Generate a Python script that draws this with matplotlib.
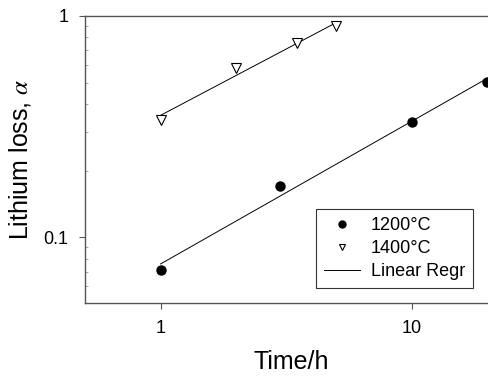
import numpy as np
import matplotlib
matplotlib.use("Agg")
import matplotlib.pyplot as plt
from matplotlib.ticker import FixedLocator, NullFormatter, LogLocator
from matplotlib.lines import Line2D

plt.rcParams['font.family'] = ['Liberation Sans', 'DejaVu Sans']
plt.rcParams['mathtext.fontset'] = 'stix'

t_1200 = [1, 3, 10, 20]
a_1200 = [0.071, 0.171, 0.333, 0.505]
t_1400 = [1, 2, 3.5, 5]
a_1400 = [0.34, 0.583, 0.756, 0.90]

x_ticks = [1, 10]
x_ticklabels = ['1', '10']
y_ticks = [0.1, 1]
y_ticklabels = ['0.1', '1']

fig = plt.figure(figsize=(4.89, 3.76), dpi=100)
ax = fig.add_axes([85/489, 1-303/376, 1-85/489, (303-16)/376])

def fit_line(t, a):
    lt, la = np.log10(t), np.log10(a)
    k, b = np.polyfit(lt, la, 1)
    xs = np.array([min(t), max(t)])
    return xs, 10**(b + k*np.log10(xs))

x1, y1 = fit_line(t_1200, a_1200)
x2, y2 = fit_line(t_1400, a_1400)

ax.plot(t_1200, a_1200, 'o', color='black', ms=6.5, zorder=3)
ax.plot(t_1400, a_1400, 'v', mfc='white', mec='black', mew=0.8, ms=6.5, zorder=3)
ax.plot(x1, y1, '-', color='black', lw=0.7)
ax.plot(x2, y2, '-', color='black', lw=0.7)

ax.set_xscale('log')
ax.set_yscale('log')
ax.set_xlim(0.5, 20.3)
ax.set_ylim(0.0505, 1)
ax.xaxis.set_major_locator(FixedLocator(x_ticks))
ax.set_xticklabels(x_ticklabels)
ax.xaxis.set_minor_locator(FixedLocator([]))
ax.yaxis.set_major_locator(FixedLocator(y_ticks))
ax.set_yticklabels(y_ticklabels)
ax.yaxis.set_minor_locator(LogLocator(subs=np.arange(2, 10)))
ax.yaxis.set_minor_formatter(NullFormatter())

for s in ['left', 'bottom', 'top']:
    ax.spines[s].set_color('#555555')
    ax.spines[s].set_linewidth(1.0)
ax.spines['right'].set_visible(False)

ax.tick_params(axis='both', which='major', direction='out', length=4, color='#555555',
               labelsize=13, pad=8)
ax.tick_params(axis='y', which='minor', direction='in', length=2, color='#999999')
ax.tick_params(axis='x', which='major', top=False)

ax.set_xlabel('Time/h', fontsize=18)
ax.set_ylabel(r'Lithium loss, $\alpha$', fontsize=18)
ax.xaxis.set_label_coords(0.5 + (291 - (85 + 202)) / 404, (303 - 350) / 287)
ax.yaxis.set_label_coords((33 - 85) / 404, 0.5)

handles = [
    Line2D([], [], ls='none', marker='o', color='black', ms=5),
    Line2D([], [], ls='none', marker='v', mfc='white', mec='black', mew=0.8, ms=5),
    Line2D([], [], ls='-', color='black', lw=0.7),
]
labels = ['1200°C', '1400°C', 'Linear Regr']
leg = ax.legend(handles, labels, loc='lower right',
                bbox_to_anchor=((473-85)/404, (303-288)/287), fontsize=13,
                frameon=True, fancybox=False, edgecolor='black', handlelength=2.0,
                borderpad=0.45, labelspacing=0.32, handletextpad=0.6, borderaxespad=0)
leg.get_frame().set_linewidth(0.8)

fig.savefig('out.png', dpi=100)
